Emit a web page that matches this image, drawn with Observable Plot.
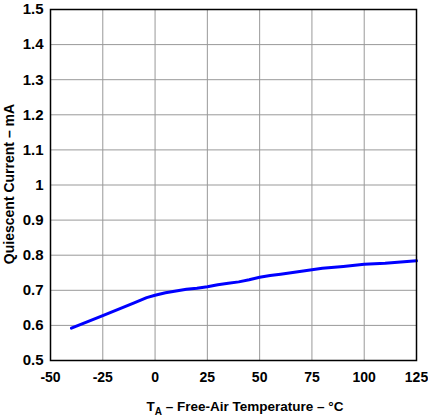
<!DOCTYPE html>
<html>
<head>
<meta charset="utf-8">
<script src="https://cdn.jsdelivr.net/npm/d3@7"></script>
<script src="https://cdn.jsdelivr.net/npm/@observablehq/plot@0.6"></script>
<style>
  body { margin: 0; background: #fff; }
</style>
</head>
<body>
<div id="chart"></div>
<script>
// temperature (°C) and quiescent current (mA)
const temps = [-40, -25, -10, -4, 0, 5, 10, 15, 20, 25, 30, 35, 40, 45, 50, 55, 60, 70, 80, 90, 100, 110, 125];
const current = [0.592, 0.628, 0.664, 0.679, 0.686, 0.693, 0.698, 0.703, 0.706, 0.710, 0.716, 0.720, 0.724, 0.730, 0.737, 0.742, 0.746, 0.754, 0.763, 0.768, 0.774, 0.777, 0.784];
const xTicks = [-50, -25, 0, 25, 50, 75, 100, 125];
const yTicks = [0.5, 0.6, 0.7, 0.8, 0.9, 1, 1.1, 1.2, 1.3, 1.4, 1.5];

const data = temps.map((t, i) => ({t, i: current[i]}));

const chart = Plot.plot({
  width: 428,
  height: 418,
  marginLeft: 50,
  marginRight: 12,
  marginTop: 9,
  marginBottom: 58,
  style: {
    fontFamily: "'Liberation Sans', Arial, sans-serif",
    fontWeight: "bold",
    fontSize: "15px",
    color: "black",
    background: "white"
  },
  x: {domain: [-50, 125], label: null},
  y: {domain: [0.5, 1.5], label: null},
  marks: [
    Plot.gridX(xTicks, {stroke: "#999", strokeOpacity: 1, strokeWidth: 1}),
    Plot.gridY(yTicks, {stroke: "#999", strokeOpacity: 1, strokeWidth: 1}),
    Plot.axisX(xTicks, {tickSize: 0, tickPadding: 12, fontSize: 14, fontWeight: "bold",
      label: null, tickFormat: d => String(d)}),
    Plot.axisY(yTicks, {tickSize: 0, tickPadding: 7, fontSize: 15, fontWeight: "bold",
      label: null, tickFormat: d => String(+d.toFixed(1))}),
    Plot.line(data, {x: "t", y: "i", stroke: "#0000ff", strokeWidth: 3}),
    Plot.frame({stroke: "black", strokeWidth: 1.5})
  ]
});

const svg = d3.select(chart);
// x title with subscript
const xt = svg.append("text")
  .attr("x", 245)
  .attr("y", 411)
  .attr("text-anchor", "middle")
  .attr("font-size", 13.5)
  .attr("font-weight", "bold")
  .attr("fill", "black");
xt.append("tspan").text("T");
xt.append("tspan").attr("font-size", 10).attr("dy", 4).text("A");
xt.append("tspan").attr("dy", -4).text(" – Free-Air Temperature – °C");

svg.append("text")
  .attr("transform", "translate(14,184) rotate(-90)")
  .attr("text-anchor", "middle")
  .attr("font-size", 14)
  .attr("font-weight", "bold")
  .attr("fill", "black")
  .text("Quiescent Current – mA");

d3.select("#chart").append(() => chart);
</script>
</body>
</html>
